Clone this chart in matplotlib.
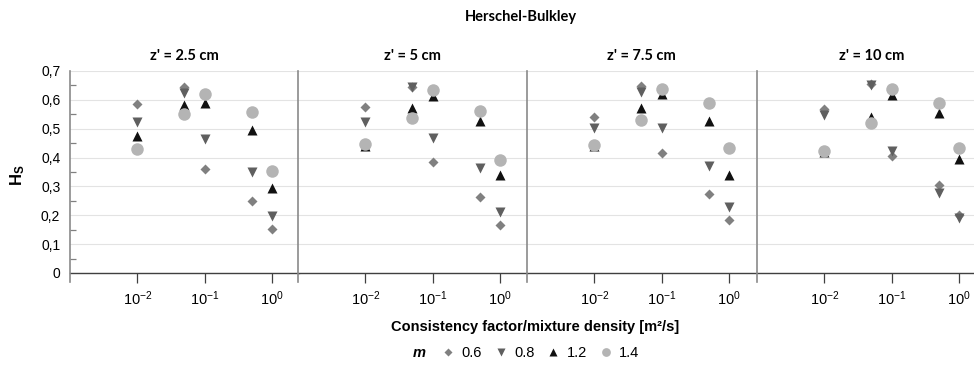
import matplotlib
matplotlib.use('Agg')
import matplotlib.pyplot as plt
from matplotlib.lines import Line2D
from matplotlib.ticker import FixedLocator, NullLocator

plt.rcParams['font.family'] = ['Liberation Sans', 'DejaVu Sans']
plt.rcParams['mathtext.fontset'] = 'custom'
plt.rcParams['mathtext.rm'] = 'Liberation Sans'
plt.rcParams['mathtext.bf'] = 'Liberation Sans:bold'
plt.rcParams['mathtext.it'] = 'Liberation Sans:italic'

# consistency factor / mixture density [m2/s]
k_rho = [0.01, 0.05, 0.1, 0.5, 1.0]
m_labels = ['0.6', '0.8', '1.2', '1.4']
panel_titles = ["z' = 2.5 cm", "z' = 5 cm", "z' = 7.5 cm", "z' = 10 cm"]
y_ticks = [0, 0.1, 0.2, 0.3, 0.4, 0.5, 0.6, 0.7]
y_ticklabels = ['0', '0,1', '0,2', '0,3', '0,4', '0,5', '0,6', '0,7']

# Hs per m (rows: m = 0.6, 0.8, 1.2, 1.4)
hs_z25 = [[0.587, 0.644, 0.362, 0.251, 0.153],
          [0.524, 0.625, 0.463, 0.349, 0.199],
          [0.475, 0.583, 0.589, 0.495, 0.293],
          [0.428, 0.551, 0.621, 0.558, 0.354]]
hs_z5 = [[0.575, 0.645, 0.384, 0.262, 0.165],
         [0.524, 0.644, 0.468, 0.364, 0.211],
         [0.440, 0.573, 0.615, 0.527, 0.339],
         [0.446, 0.536, 0.633, 0.562, 0.390]]
hs_z75 = [[0.541, 0.648, 0.417, 0.273, 0.184],
          [0.504, 0.627, 0.503, 0.372, 0.228],
          [0.440, 0.573, 0.619, 0.527, 0.339],
          [0.442, 0.529, 0.636, 0.590, 0.434]]
hs_z10 = [[0.567, 0.655, 0.405, 0.305, 0.202],
          [0.547, 0.652, 0.422, 0.276, 0.189],
          [0.420, 0.540, 0.618, 0.555, 0.395],
          [0.422, 0.520, 0.639, 0.588, 0.432]]
panels = [hs_z25, hs_z5, hs_z75, hs_z10]

styles = [dict(marker='D', color='#808080', ms=5.5),
          dict(marker='v', color='#5f5f5f', ms=7.5),
          dict(marker='^', color='#111111', ms=7.5),
          dict(marker='o', color='#b4b4b4', ms=9)]

W, H = 974, 367
fig = plt.figure(figsize=(W / 100, H / 100), dpi=100)

def px_box(left, top, width, height):
    return [left / W, 1 - (top + height) / H, width / W, height / H]

lefts = [70, 298, 527, 757]
for i, left in enumerate(lefts):
    ax = fig.add_axes(px_box(left, 71, 229, 202))
    for row, st in zip(panels[i], styles):
        ax.plot(k_rho, row, ls='none', marker=st['marker'], color=st['color'],
                ms=st['ms'], mec='none', clip_on=False)
    ax.set_xscale('log')
    ax.set_xlim(1e-3, 10 ** 0.4)
    ax.set_ylim(0, 0.7)
    ax.xaxis.set_major_locator(FixedLocator([1e-2, 1e-1, 1]))
    ax.xaxis.set_minor_locator(NullLocator())
    ax.set_xticklabels(['$10^{-2}$', '$10^{-1}$', '$10^{0}$'])
    ax.tick_params(axis='x', which='major', direction='out', length=7, width=0.9,
                   color='#404040', labelsize=10.5, pad=5)
    ax.yaxis.set_major_locator(FixedLocator(y_ticks))
    ax.yaxis.set_minor_locator(FixedLocator([0.05, 0.15, 0.25, 0.35, 0.45, 0.55, 0.65]))
    ax.tick_params(axis='y', which='major', length=0, pad=7, labelsize=10)
    ax.tick_params(axis='y', which='minor', direction='in', length=4, width=0.9,
                   color='#808080')
    if i == 0:
        ax.set_yticklabels(y_ticklabels)
    else:
        ax.tick_params(axis='y', which='both', left=False, labelleft=False)
    ax.grid(axis='y', color='#e3e3e3', lw=0.8)
    ax.set_axisbelow(True)
    for s in ['top', 'right', 'left']:
        ax.spines[s].set_visible(False)
    ax.spines['bottom'].set_color('#404040')
    ax.spines['bottom'].set_linewidth(1)
    ax.plot([0, 0], [-0.045, 1], transform=ax.transAxes, color='#8a8a8a',
            lw=1.2, clip_on=False, zorder=3)
    ax.set_title(panel_titles[i], fontfamily='Lato', fontweight='bold',
                 fontsize=10.5, pad=8)

fig.text(521 / W, 1 - 17 / H, 'Herschel-Bulkley', ha='center', va='center',
         fontfamily='Lato', fontweight='bold', fontsize=10.5)
fig.text(18 / W, 1 - 175 / H, r'$\mathbf{H_S}$', rotation=90, ha='center',
         va='center', fontsize=12)
fig.text(535 / W, 1 - 327 / H, 'Consistency factor/mixture density [m²/s]',
         ha='center', va='center', fontweight='bold', fontsize=10.5)

handles = [Line2D([], [], ls='none', marker=st['marker'], color=st['color'],
                  ms=st['ms'] * 0.7, mec='none') for st in styles]
fig.legend(handles, m_labels, loc='center', bbox_to_anchor=(540 / W, 1 - 353 / H),
           ncol=4, frameon=False, fontsize=10.5, handlelength=1.0,
           handletextpad=0.4, columnspacing=0.8, borderpad=0)
fig.text(413 / W, 1 - 353 / H, 'm', ha='left', va='center', fontweight='bold',
         fontstyle='italic', fontsize=10.5)

fig.savefig('out.png', dpi=100)
